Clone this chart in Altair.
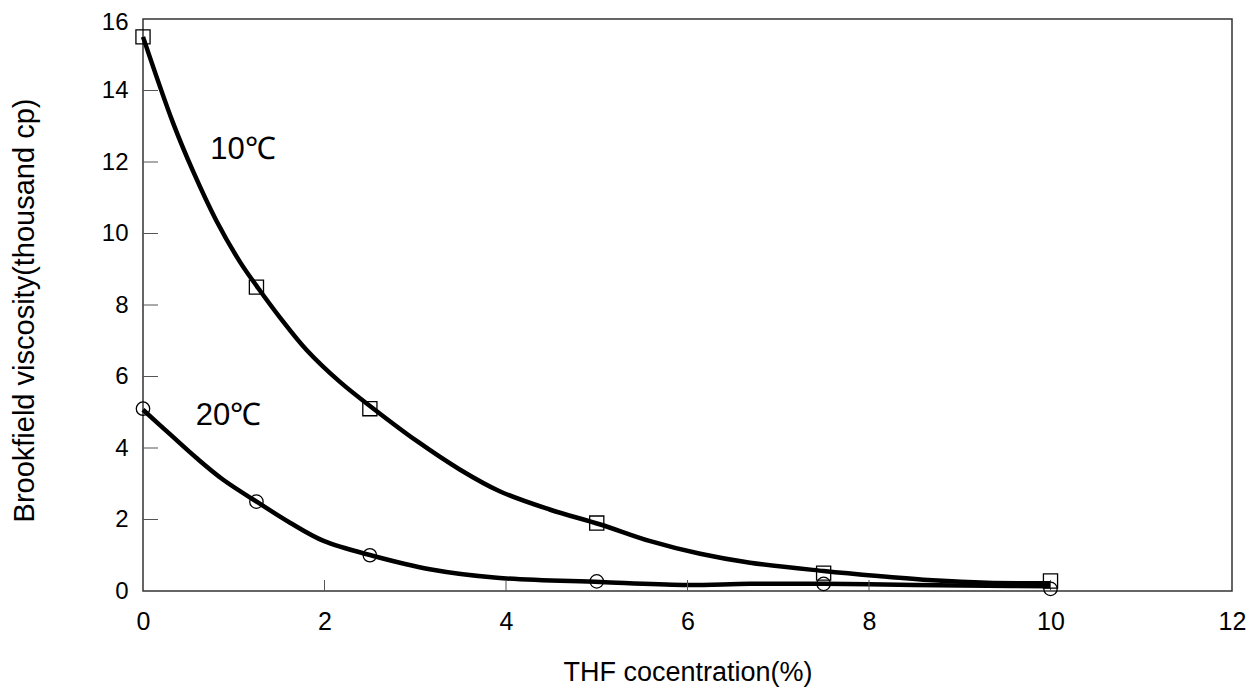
import altair as alt
import pandas as pd

# measured points
conc = [0, 1.25, 2.5, 5, 7.5, 10]
visc_10c = [15.5, 8.5, 5.1, 1.9, 0.5, 0.28]
visc_20c = [5.1, 2.5, 1.0, 0.27, 0.2, 0.06]

# smooth fitted curves
curve10_x = [0, 0.33, 0.55, 0.81, 1.07, 1.27, 1.51, 1.80, 2.17, 2.54, 3.02, 3.49,
             3.93, 4.48, 5.04, 5.58, 6.14, 6.69, 7.5, 8.1, 8.7, 9.3, 10]
curve10_y = [15.5, 13.1, 11.75, 10.35, 9.2, 8.47, 7.65, 6.75, 5.85, 5.1, 4.19, 3.40,
             2.79, 2.28, 1.86, 1.40, 1.04, 0.79, 0.56, 0.42, 0.30, 0.23, 0.22]
curve20_x = [0, 0.30, 0.59, 0.88, 1.27, 1.62, 1.99, 2.54, 3.16, 3.9, 5.04, 5.95,
             6.69, 7.5, 8.5, 9.3, 10]
curve20_y = [5.07, 4.38, 3.72, 3.12, 2.47, 1.91, 1.40, 0.98, 0.61, 0.37, 0.25, 0.17,
             0.20, 0.20, 0.17, 0.15, 0.13]

x_ticks = [2, 4, 6, 8, 10]
y_ticks = [2, 4, 6, 8, 10, 12, 14]
x_label_values = [0, 2, 4, 6, 8, 10, 12]
y_label_values = [0, 2, 4, 6, 8, 10, 12, 14, 16]

label_text = ["10℃", "20℃"]
label_x = [0.74, 0.58]
label_y = [12.34, 4.89]

W, H = 1089, 572
FONT = "Liberation Sans"

curves = pd.concat([
    pd.DataFrame({"x": curve10_x, "y": curve10_y, "series": "10"}),
    pd.DataFrame({"x": curve20_x, "y": curve20_y, "series": "20"}),
])
pts10 = pd.DataFrame({"x": conc, "y": visc_10c})
pts20 = pd.DataFrame({"x": conc, "y": visc_20c})
labels = pd.DataFrame({"x": label_x, "y": label_y, "t": label_text})
xt = pd.DataFrame({"x": x_ticks})
yt = pd.DataFrame({"y": y_ticks})

xs = alt.Scale(domain=[0, 12], nice=False, zero=False)
ys = alt.Scale(domain=[0, 16], nice=False, zero=False)

x_axis = alt.Axis(
    title="THF cocentration(%)", values=x_label_values, format="d",
    ticks=False, domain=False, grid=False,
    labelFontSize=25, labelFont=FONT, labelColor="black", labelPadding=18,
    labelFlush=False,
    titleFontSize=27, titleFont=FONT, titleFontWeight="normal", titleColor="black",
    titleX=W / 2, titleY=89, titleBaseline="alphabetic", titleAlign="center")
y_axis = alt.Axis(
    title="Brookfield viscosity(thousand cp)", values=y_label_values, format="d",
    ticks=False, domain=False, grid=False,
    labelFontSize=24, labelFont=FONT, labelColor="black", labelPadding=15,
    labelFlush=False,
    labelOffset={"condition": {"test": "datum.value == 16", "value": 3}, "value": 0},
    titleFontSize=29, titleFont=FONT, titleFontWeight="normal", titleColor="black",
    titleX=-119, titleY=291, titleAngle=-90, titleBaseline="middle",
    titleAlign="center")

X = alt.X("x:Q", scale=xs, axis=x_axis)
Y = alt.Y("y:Q", scale=ys, axis=y_axis)

line_layer = alt.Chart(curves).mark_line(
    color="black", strokeWidth=4.5, interpolate="catmull-rom"
).encode(x=X, y=Y, detail="series:N")

sq = alt.Chart(pts10).mark_point(
    shape="square", filled=False, color="black", size=200, strokeWidth=1.3, opacity=1
).encode(x=X, y=Y)

ci = alt.Chart(pts20).mark_point(
    shape="circle", filled=False, color="black", size=180, strokeWidth=1.3, opacity=1
).encode(x=X, y=Y)

txt = alt.Chart(labels).mark_text(
    align="left", baseline="middle", fontSize=31, font=FONT, color="black"
).encode(x=X, y=Y, text="t:N")

ytick_layer = alt.Chart(yt).mark_rule(color="#555", strokeWidth=1).encode(
    y=Y, x=alt.value(0), x2=alt.value(15))

xtick_layer = alt.Chart(xt).mark_rule(color="#555", strokeWidth=1).encode(
    x=X, y=alt.value(H), y2=alt.value(H - 11))

chart = alt.layer(line_layer, ytick_layer, xtick_layer, sq, ci, txt).properties(
    width=W, height=H,
    autosize=alt.AutoSizeParams(type="none"),
    padding={"left": 135, "top": 11, "right": 18, "bottom": 98},
    background="white",
).configure_view(stroke="#333", strokeWidth=1.5)

chart.save("out.html", embed_options={"renderer": "svg", "actions": False})
